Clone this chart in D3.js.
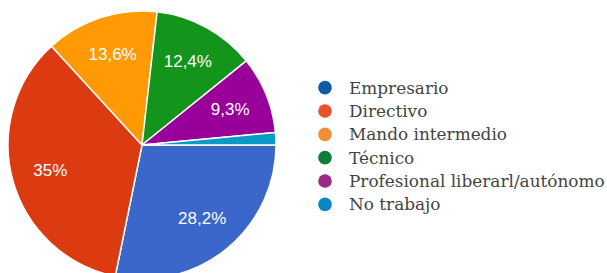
<!DOCTYPE html>
<html><head><meta charset="utf-8">
<script src="https://cdn.jsdelivr.net/npm/d3@7"></script>
<style>html,body{margin:0;padding:0;background:#fff;}svg{display:block;}</style>
</head><body>
<svg id="c" width="607" height="273"></svg>
<script>
const categories = ["Empresario","Directivo","Mando intermedio","Técnico","Profesional liberarl/autónomo","No trabajo"];
const values = [28.2, 35, 13.6, 12.4, 9.3, 1.5];
const labels = ["28,2%","35%","13,6%","12,4%","9,3%",""];
const pieColors = ["#3a67c9","#dc3b12","#ff9a05","#12951a","#990099","#0a9ac4"];
const legendColors = ["#0f5aa6","#e8532c","#f08f38","#0e7d3c","#9b2a86","#0b86c3"];

const svg = d3.select("#c");
const cx = 142, cy = 145, R = 134;
const g = svg.append("g").attr("transform", `translate(${cx},${cy})`);
const pie = d3.pie().sort(null).value(d => d).startAngle(Math.PI/2).endAngle(Math.PI/2 + 2*Math.PI);
const arcs = pie(values);
const arc = d3.arc().innerRadius(0).outerRadius(R);
g.selectAll("path").data(arcs).join("path")
  .attr("d", arc).attr("fill", (d,i) => pieColors[i])
  .attr("stroke", "#fff").attr("stroke-width", 1.5).attr("stroke-linejoin","round");
const labelArc = d3.arc().innerRadius(R*0.71).outerRadius(R*0.71);
g.selectAll("text").data(arcs).join("text")
  .attr("transform", d => `translate(${labelArc.centroid(d)})`)
  .attr("text-anchor","middle").attr("dominant-baseline","central")
  .attr("font-family","'Liberation Sans', Arial, sans-serif").attr("font-size", 17)
  .attr("fill","#fff").text((d,i) => labels[i]);

const ly = d3.scaleBand().domain(categories).range([76, 216]);
const lg = svg.append("g");
const rows = lg.selectAll("g").data(categories).join("g")
  .attr("transform", d => `translate(0,${ly(d) + ly.bandwidth()/2})`);
rows.append("circle").attr("cx", 325).attr("cy", 0).attr("r", 6.8).attr("fill", (d,i) => legendColors[i]);
const txt = rows.append("text").attr("x", 349).attr("y", 0).attr("dominant-baseline","central")
  .attr("font-family","'DejaVu Serif', serif").attr("font-size", 16).attr("fill","#444").text(d => d);
// fit longest label to width in reference
const longest = txt.filter((d,i) => i === 4).node();
const w = longest.getComputedTextLength();
const fs = 16 * 256 / w;
txt.attr("font-size", fs);
</script>
</body></html>
